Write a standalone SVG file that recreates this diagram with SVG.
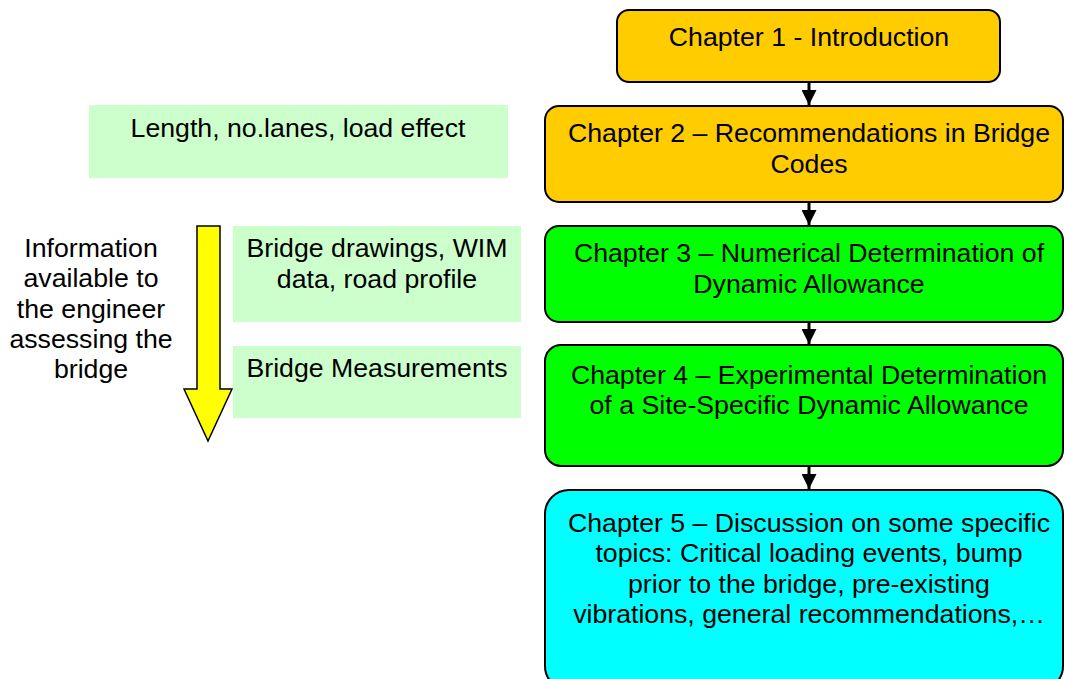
<svg xmlns="http://www.w3.org/2000/svg" width="1065" height="679" viewBox="0 0 1065 679">
<style>
text{font-family:"Liberation Sans",Arial,sans-serif;font-size:26.7px;fill:#000;text-anchor:middle}
.ch{stroke:#000;stroke-width:2}
.info{fill:#CCFFCC}
.conn{stroke:#000;stroke-width:3;fill:none}
</style>
<defs>
<marker id="ah" viewBox="0 0 10 10" refX="10" refY="5" markerWidth="15" markerHeight="15" markerUnits="userSpaceOnUse" orient="auto">
<path d="M0,0 L10,5 L0,10 z" fill="#000"/>
</marker>
</defs>
<rect width="1065" height="679" fill="#fff"/>
<g id="ch1"><rect class="ch" x="617" y="10" width="383" height="72" rx="12" fill="#FFCC00"/><text x="809" y="46">Chapter 1 - Introduction</text></g>
<g id="ch2"><rect class="ch" x="545" y="106" width="518" height="96" rx="14" fill="#FFCC00"/><text x="809" y="142">Chapter 2 – Recommendations in Bridge</text><text x="809" y="172.5">Codes</text></g>
<g id="ch3"><rect class="ch" x="545" y="226" width="518" height="96" rx="14" fill="#00FF00"/><text x="809" y="262">Chapter 3 – Numerical Determination of</text><text x="809" y="293">Dynamic Allowance</text></g>
<g id="ch4"><rect class="ch" x="545" y="345" width="518" height="121" rx="16" fill="#00FF00"/><text x="809" y="384">Chapter 4 – Experimental Determination</text><text x="809" y="414">of a Site-Specific Dynamic Allowance</text></g>
<g id="ch5"><rect class="ch" x="545" y="490" width="518" height="200" rx="24" fill="#00FFFF"/><text x="809" y="532">Chapter 5 – Discussion on some specific</text><text x="809" y="562">topics: Critical loading events, bump</text><text x="809" y="593">prior to the bridge, pre-existing</text><text x="809" y="623">vibrations, general recommendations,…</text></g>
<g id="info1"><rect class="info" x="89" y="105" width="419" height="73"/><text x="298" y="137">Length, no.lanes, load effect</text></g>
<g id="info2"><rect class="info" x="233" y="226" width="288" height="96"/><text x="377" y="257">Bridge drawings, WIM</text><text x="377" y="288">data, road profile</text></g>
<g id="info3"><rect class="info" x="233" y="346" width="288" height="72"/><text x="377" y="377">Bridge Measurements</text></g>
<g id="infoArrow"><path d="M197,226 H220 V389 H232 L208,441 L184,389 H197 Z" fill="#FFFF00" stroke="#000" stroke-width="1.5"/></g>
<g id="infoLabel"><text x="91" y="257">Information</text><text x="91" y="287">available to</text><text x="91" y="318">the engineer</text><text x="91" y="348">assessing the</text><text x="91" y="378">bridge</text></g>
<g id="connectors">
<line class="conn" x1="809" y1="82" x2="809" y2="105" marker-end="url(#ah)"/>
<line class="conn" x1="809" y1="202" x2="809" y2="225" marker-end="url(#ah)"/>
<line class="conn" x1="809" y1="322" x2="809" y2="344" marker-end="url(#ah)"/>
<line class="conn" x1="809" y1="466" x2="809" y2="489" marker-end="url(#ah)"/>
</g>
</svg>
